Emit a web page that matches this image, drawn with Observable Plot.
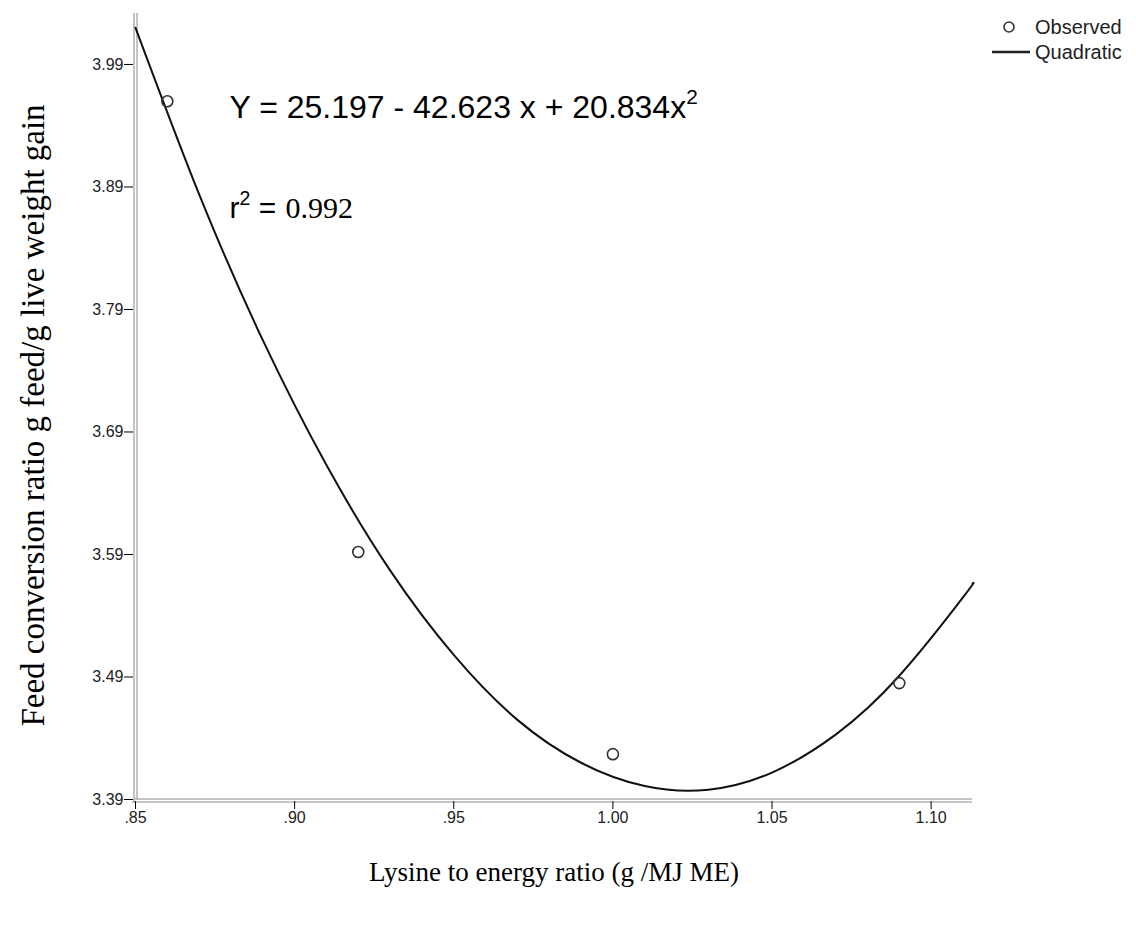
<!DOCTYPE html>
<html><head><meta charset="utf-8">
<script src="https://cdn.jsdelivr.net/npm/d3@7"></script>
<script src="https://cdn.jsdelivr.net/npm/@observablehq/plot@0.6"></script>
<style>
body{margin:0;background:#fff;}
#chart svg{display:block;}
</style></head><body><div id="chart"></div>
<script>
const lysine = [0.86, 0.92, 1.00, 1.09];
const fcr = [3.960, 3.592, 3.427, 3.485];
// Fitted quadratic curve
const fitX = [0.85, 0.87, 0.89, 0.91, 0.93, 0.95, 0.97, 0.99, 1.01, 1.03, 1.05, 1.07, 1.09, 1.11, 1.113];
const fitY = [4.020, 3.884, 3.765, 3.663, 3.577, 3.508, 3.455, 3.420, 3.401, 3.398, 3.412, 3.443, 3.491, 3.555, 3.566];
// Ticks
const xTicks = [0.85, 0.90, 0.95, 1.00, 1.05, 1.10];
const xTickLabels = [".85", ".90", ".95", "1.00", "1.05", "1.10"];
const yTicks = [3.39, 3.49, 3.59, 3.69, 3.79, 3.89, 3.99];
const yTickLabels = ["3.39", "3.49", "3.59", "3.69", "3.79", "3.89", "3.99"];
// Texts
const xTitle = "Lysine to energy ratio (g /MJ ME)";
const yTitle = "Feed conversion ratio g feed/g live weight gain";
const equation = "Y = 25.197 - 42.623 x + 20.834x²";
const rLabel = "r² =";
const rValue = "0.992";
const legendItems = ["Observed", "Quadratic"];

const observed = lysine.map((x, i) => ({x, y: fcr[i]}));
const fit = fitX.map((x, i) => ({x, y: fitY[i]}));
const sans = "'Liberation Sans', Arial, sans-serif";
const serif = "'Liberation Serif', 'Times New Roman', serif";

const chart = Plot.plot({
  width: 1136, height: 934,
  marginLeft: 135, marginRight: 164, marginTop: 13, marginBottom: 135,
  style: {background: "white", overflow: "visible", fontSize: "16px", fontFamily: sans},
  x: {domain: [0.85, 1.113]},
  y: {domain: [3.39, 4.0316]},
  marks: [
    Plot.ruleX([0.85], {stroke: "#8a8a8a", strokeWidth: 1, dx: -1.5, insetBottom: -3}),
    Plot.ruleX([0.85], {stroke: "#8a8a8a", strokeWidth: 1, dx: 1.5}),
    Plot.ruleY([3.39], {stroke: "#8a8a8a", strokeWidth: 1, dy: -0.5, insetLeft: -1}),
    Plot.ruleY([3.39], {stroke: "#8a8a8a", strokeWidth: 1, dy: 2.5, insetLeft: -3}),
    Plot.axisY({ticks: yTicks, tickFormat: d => yTickLabels[yTicks.indexOf(d)], tickSize: 9, dx: -2, tickPadding: 1,
      fontSize: 16, fontFamily: sans, label: null, stroke: "#000", fill: "#222"}),
    Plot.axisX({ticks: xTicks, tickFormat: d => xTickLabels[xTicks.indexOf(d)], tickSize: 8, dy: 2, tickPadding: 2,
      fontSize: 16, fontFamily: sans, label: null, stroke: "#000", fill: "#222"}),
    Plot.line(fit, {x: "x", y: "y", curve: "natural", stroke: "#111", strokeWidth: 2}),
    Plot.dot(observed, {x: "x", y: "y", r: 5.5, stroke: "#333", strokeWidth: 1.6, fill: "none"}),
    Plot.text([equation], {frameAnchor: "top-left", dx: 94, dy: 104, textAnchor: "start", lineAnchor: "bottom",
      fontSize: 32, fontFamily: sans, fill: "#000"}),
    Plot.text([rLabel], {frameAnchor: "top-left", dx: 94, dy: 204, textAnchor: "start", lineAnchor: "bottom",
      fontSize: 30, fontFamily: sans, fill: "#000"}),
    Plot.text([rValue], {frameAnchor: "top-left", dx: 150, dy: 204, textAnchor: "start", lineAnchor: "bottom",
      fontSize: 30, fontFamily: serif, fill: "#000"}),
    Plot.text([yTitle], {frameAnchor: "left", rotate: -90, textAnchor: "middle", dx: -102, dy: 9, fontSize: 33, fontFamily: serif, fill: "#000"}),
    Plot.text([xTitle], {frameAnchor: "bottom", textAnchor: "middle", dy: 81, fontSize: 27, fontFamily: serif, fill: "#000"})
  ]
});
document.getElementById("chart").appendChild(chart);

// Tick label size
d3.select(chart).selectAll("g[aria-label$='tick label']").attr("font-size", 16).attr("font-family", sans);

// Render "²" as a real superscript 2
d3.select(chart).selectAll("text").each(function() {
  const t = this.textContent;
  if (!t.includes("²")) return;
  const parts = t.split("²");
  const node = d3.select(this);
  node.text(null);
  parts.forEach((p, i) => {
    if (p) {
      const s = node.append("tspan").text(p);
      if (i > 0) s.attr("dy", "0.4225em");
    }
    if (i < parts.length - 1) {
      node.append("tspan").attr("font-size", "0.65em").attr("dy", "-0.65em").text("2");
    }
  });
});

// Legend (top right)
const lg = d3.select(chart).append("g").attr("font-family", sans).attr("font-size", 20).attr("fill", "#222").attr("text-anchor", "start");
lg.append("circle").attr("cx", 1009).attr("cy", 27).attr("r", 5).attr("fill", "none").attr("stroke", "#333").attr("stroke-width", 1.6);
lg.append("text").attr("x", 1035).attr("y", 27).attr("dy", "0.35em").text(legendItems[0]);
lg.append("line").attr("x1", 992).attr("x2", 1030).attr("y1", 52).attr("y2", 52).attr("stroke", "#222").attr("stroke-width", 2.5);
lg.append("text").attr("x", 1035).attr("y", 52).attr("dy", "0.35em").text(legendItems[1]);
</script>
</body></html>
